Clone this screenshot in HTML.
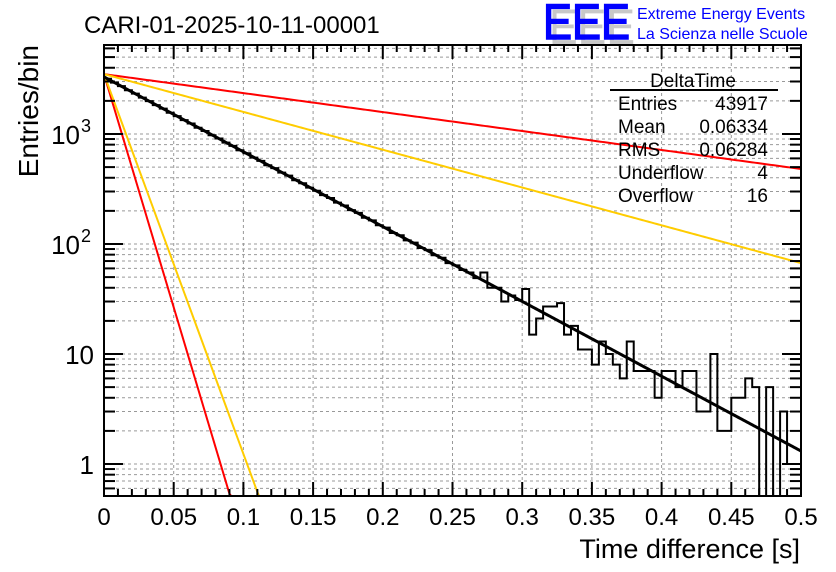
<!DOCTYPE html>
<html><head><meta charset="utf-8"><style>
body{margin:0;background:#fff;}
svg{display:block;font-family:"Liberation Sans",sans-serif;}
</style></head><body>
<svg id="c" width="836" height="572" xmlns="http://www.w3.org/2000/svg">
<text x="84" y="33" font-size="24">CARI-01-2025-10-11-00001</text>
<g>
<text x="549" y="44" font-size="50" fill="#c8c8c8" textLength="86" lengthAdjust="spacingAndGlyphs">EEE</text>
<text x="543" y="39" font-size="50" fill="#0000ff" textLength="87" lengthAdjust="spacingAndGlyphs" stroke="#0000ff" stroke-width="1.5">EEE</text>
<text x="637" y="19" font-size="16" fill="#0000ff">Extreme Energy Events</text>
<text x="637" y="39" font-size="16" fill="#0000ff">La Scienza nelle Scuole</text>
</g>
<g id="grid"></g><g id="marks"></g><g id="axes"></g>
<g font-size="19">
<text x="693" y="87" text-anchor="middle">DeltaTime</text>
<line x1="610" y1="90" x2="778" y2="90" stroke="#000" stroke-width="2"/>
<text x="618" y="110">Entries</text><text x="768" y="110" text-anchor="end">43917</text>
<text x="618" y="133">Mean</text><text x="768" y="133" text-anchor="end">0.06334</text>
<text x="618" y="156">RMS</text><text x="768" y="156" text-anchor="end">0.06284</text>
<text x="618" y="179">Underflow</text><text x="768" y="179" text-anchor="end">4</text>
<text x="618" y="202">Overflow</text><text x="768" y="202" text-anchor="end">16</text>
</g>
<text x="800" y="558" font-size="27" text-anchor="end">Time difference [s]</text>
<text transform="translate(38,45) rotate(-90)" font-size="28" text-anchor="end">Entries/bin</text>
</svg>
<script>
const binWidth = 0.005;
const counts = [3180,2930,2720,2500,2330,2140,1990,1830,1700,1560,1455,1335,1245,1140,1065,975,910,835,780,712,668,610,570,520,490,445,418,380,357,325,305,278,262,238,224,203,192,173,164,148,141,126,120,108,103,92,88,79,75,67,64,58,55,49,55,40,40,30,34,31,39,15,21,27,27,29,15,18,11,11,8,13,10,8,6,13,7,7,7,4,7,7,5,7,7,3,3,10,2,2,4,4,6,5,0,5,0,3,1,1];
const fitAmps = [3300,3500,3500,3500,3500];
const fitRates = [15.66,3.97,7.91,97.6,79.5];
const fitColors = ['#000','#ff0000','#ffcc00','#ff0000','#ffcc00'];
const xTicks = [0,0.05,0.1,0.15,0.2,0.25,0.3,0.35,0.4,0.45,0.5];
const xTickLabels = ['0','0.05','0.1','0.15','0.2','0.25','0.3','0.35','0.4','0.45','0.5'];
const yDecades = [1,10,100,1000];
const yTickBase = ['1','10','10','10'];
const yTickExp = ['','','2','3'];

const L=104,R=801,T=45,B=496, yMin=0.512, yMax=6440;
const sx = v => L + (v-0)/(0.5)*(R-L);
const sy = v => B - (Math.log10(v)-Math.log10(yMin))/(Math.log10(yMax)-Math.log10(yMin))*(B-T);
const NS='http://www.w3.org/2000/svg';
function mk(tag,attrs,parent){const e=document.createElementNS(NS,tag);for(const k in attrs)e.setAttribute(k,attrs[k]);parent.appendChild(e);return e;}
const grid=document.getElementById('grid'),marks=document.getElementById('marks'),axes=document.getElementById('axes');
const gs={stroke:'#999','stroke-width':1,'stroke-dasharray':'3,3'};
for(let d=0.1; d<=10000; d*=10){
  for(let m=1;m<=9;m++){
    const v=d*m; if(v<yMin||v>yMax) continue;
    const y=sy(v);
    const gl=mk('line',Object.assign({x1:L,x2:R,y1:y,y2:y},gs),grid);
    
    
    const len=m===1?19:11;
    const t1=mk('line',{x1:L,x2:L+len,y1:y,y2:y,stroke:'#000','stroke-width':2},axes);
    
    
    const t2=mk('line',{x1:R,x2:R-len,y1:y,y2:y,stroke:'#000','stroke-width':2},axes);
    
    
  }
}
yDecades.forEach((v,i)=>{
  const y=sy(v);
  const t=mk('text',{x:yTickExp[i]?80:94,y:y+10,'font-size':26,'text-anchor':'end'},axes);
  t.textContent=yTickBase[i];
  
  
  if(yTickExp[i]){
    const e=mk('text',{x:81,y:y-2,'font-size':18},axes);
    e.textContent=yTickExp[i];
    
    
  }
});
xTicks.forEach((v,i)=>{
  const x=sx(v);
  if(i>0&&i<xTicks.length-1){
    const gl=mk('line',Object.assign({x1:x,x2:x,y1:T,y2:B},gs),grid);
    
    
  }
  const t=mk('text',{x:x,y:525,'font-size':24,'text-anchor':'middle'},axes);
  t.textContent=xTickLabels[i];
  
  
});
for(let k=0;k<=50;k++){
  const x=sx(k*0.01), len=(k%5===0)?14:7;
  const a=mk('line',{x1:x,x2:x,y1:B,y2:B-len,stroke:'#000','stroke-width':2},axes);
  
  
  const b=mk('line',{x1:x,x2:x,y1:T,y2:T+len,stroke:'#000','stroke-width':2},axes);
  
  
}
const fr=mk('rect',{x:L,y:T,width:R-L,height:B-T,fill:'none',stroke:'#000','stroke-width':2},axes);


const cp=mk('clipPath',{id:'cl'},marks);mk('rect',{x:L,y:T,width:R-L,height:B-T},cp);
let d='';
counts.forEach((c,i)=>{
  const x0=sx(i*binWidth),x1=sx((i+1)*binWidth),y=c>0?Math.min(sy(c),B):B;
  d+=(i===0?'M'+x0+','+y:'L'+x0+','+y)+'L'+x1+','+y;
});
const h=mk('path',{d:d,fill:'none',stroke:'#000','stroke-width':2,'clip-path':'url(#cl)'},marks);


const order=[1,2,3,4,0];
order.forEach(j=>{
  let p='';
  for(let k=0;k<=400;k++){
    const x=k/400*0.5, v=fitAmps[j]*Math.exp(-fitRates[j]*x);
    if(v<yMin){p+='L'+sx(x)+','+B;break;}
    p+=(k===0?'M':'L')+sx(x)+','+sy(v);
  }
  const f=mk('path',{d:p,fill:'none',stroke:fitColors[j],'stroke-width':j===0?3:2,'clip-path':'url(#cl)'},marks);
  
  
});
</script>
</body></html>
